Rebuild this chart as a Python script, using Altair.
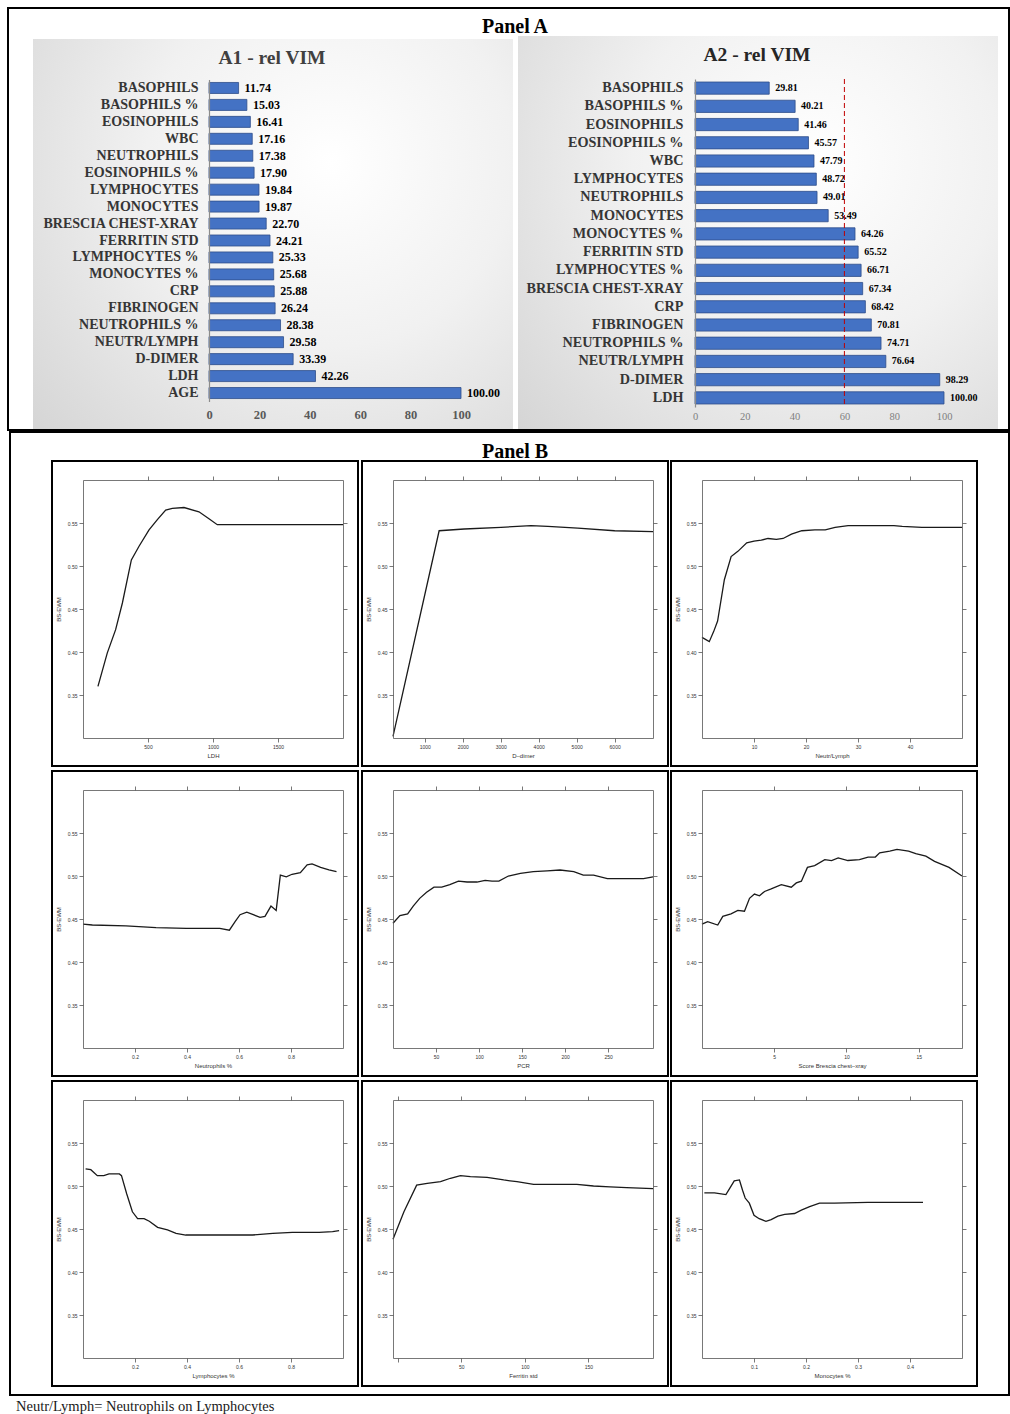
import altair as alt
import pandas as pd

W, H = 1010, 1414
SERIF = "Liberation Serif"
SANS = "Liberation Sans"

# ---------------- Panel A: relative variable importance ----------------
a1_vars = ["BASOPHILS", "BASOPHILS %", "EOSINOPHILS", "WBC", "NEUTROPHILS",
           "EOSINOPHILS %", "LYMPHOCYTES", "MONOCYTES", "BRESCIA CHEST-XRAY",
           "FERRITIN STD", "LYMPHOCYTES %", "MONOCYTES %", "CRP", "FIBRINOGEN",
           "NEUTROPHILS %", "NEUTR/LYMPH", "D-DIMER", "LDH", "AGE"]
a1_vim = [11.74, 15.03, 16.41, 17.16, 17.38, 17.90, 19.84, 19.87, 22.70, 24.21,
          25.33, 25.68, 25.88, 26.24, 28.38, 29.58, 33.39, 42.26, 100.00]

a2_vars = ["BASOPHILS", "BASOPHILS %", "EOSINOPHILS", "EOSINOPHILS %", "WBC",
           "LYMPHOCYTES", "NEUTROPHILS", "MONOCYTES", "MONOCYTES %",
           "FERRITIN STD", "LYMPHOCYTES %", "BRESCIA CHEST-XRAY", "CRP",
           "FIBRINOGEN", "NEUTROPHILS %", "NEUTR/LYMPH", "D-DIMER", "LDH"]
a2_vim = [29.81, 40.21, 41.46, 45.57, 47.79, 48.72, 49.01, 53.49, 64.26, 65.52,
          66.71, 67.34, 68.42, 70.81, 74.71, 76.64, 98.29, 100.00]
a2_cutoff = [60]

vim_ticks = [0, 20, 40, 60, 80, 100]

# ---------------- Panel B: partial dependence curves ----------------
bs_ticks = [0.35, 0.40, 0.45, 0.50, 0.55]

ldh_x = [115, 187, 251, 303, 372, 431, 508, 572, 636, 687, 777, 892, 969, 1033, 2000]
ldh_y = [0.360, 0.399, 0.426, 0.457, 0.507, 0.523, 0.542, 0.554, 0.565, 0.567,
         0.568, 0.563, 0.555, 0.548, 0.548]

ddimer_x = [164, 1379, 2039, 3007, 3800, 4240, 5030, 6000, 7010]
ddimer_y = [0.302, 0.541, 0.543, 0.545, 0.547, 0.546, 0.544, 0.541, 0.540]

nlr_x = [0, 1.4, 2.26, 3.0, 4.3, 5.6, 6.9, 8.6, 10, 11.4, 12.7, 14.3, 15.6, 17.2,
         19.2, 21.7, 23.7, 25.6, 28.1, 30, 33.2, 36.9, 38.5, 42.3, 50]
nlr_y = [0.417, 0.412, 0.424, 0.436, 0.484, 0.511, 0.517, 0.527, 0.529, 0.530,
         0.532, 0.531, 0.532, 0.537, 0.541, 0.542, 0.542, 0.545, 0.547, 0.547,
         0.547, 0.547, 0.546, 0.545, 0.545]

neut_x = [0.0, 0.036, 0.165, 0.281, 0.397, 0.526, 0.563, 0.585, 0.604, 0.630,
          0.655, 0.681, 0.700, 0.723, 0.743, 0.759, 0.782, 0.804, 0.836, 0.862,
          0.881, 0.914, 0.946, 0.975]
neut_y = [0.444, 0.443, 0.442, 0.440, 0.439, 0.439, 0.437, 0.447, 0.455, 0.458,
          0.455, 0.452, 0.453, 0.465, 0.460, 0.501, 0.499, 0.502, 0.504, 0.513,
          0.514, 0.510, 0.507, 0.505]

pcr_x = [0, 8, 17, 23.5, 31, 39, 47.6, 56.6, 66, 76, 86, 97.5, 107, 115, 123,
         134, 148, 163, 179, 194, 210, 221, 233, 249, 272, 291, 302]
pcr_y = [0.445, 0.454, 0.456, 0.465, 0.474, 0.481, 0.487, 0.487, 0.490, 0.494,
         0.493, 0.493, 0.495, 0.494, 0.494, 0.500, 0.503, 0.505, 0.506, 0.507,
         0.505, 0.501, 0.501, 0.497, 0.497, 0.497, 0.499]

xray_x = [0, 0.39, 1.09, 1.44, 2.01, 2.48, 2.94, 3.29, 3.63, 3.98, 4.33, 4.79,
          5.49, 6.18, 6.53, 6.88, 7.3, 7.8, 8.5, 8.97, 9.43, 10.1, 10.9, 11.5,
          12.0, 12.3, 13.0, 13.5, 14.3, 14.8, 15.5, 16.1, 17.1, 18]
xray_y = [0.444, 0.447, 0.443, 0.453, 0.456, 0.460, 0.459, 0.474, 0.479, 0.477,
          0.482, 0.485, 0.490, 0.487, 0.492, 0.494, 0.510, 0.512, 0.519, 0.518,
          0.521, 0.518, 0.519, 0.522, 0.522, 0.527, 0.529, 0.531, 0.529, 0.526,
          0.523, 0.517, 0.510, 0.500]

lymph_x = [0.01, 0.03, 0.055, 0.08, 0.10, 0.14, 0.148, 0.168, 0.19, 0.21, 0.235,
           0.255, 0.287, 0.325, 0.358, 0.395, 0.46, 0.523, 0.60, 0.652, 0.73,
           0.805, 0.908, 0.96, 0.985]
lymph_y = [0.520, 0.519, 0.512, 0.512, 0.514, 0.514, 0.512, 0.491, 0.470, 0.462,
           0.462, 0.459, 0.452, 0.449, 0.445, 0.443, 0.443, 0.443, 0.443, 0.443,
           0.445, 0.446, 0.446, 0.447, 0.448]

ferr_x = [-3.7, 4.9, 14.9, 23.2, 33.7, 41.5, 49.4, 57.2, 70.3, 83.4, 93.8, 106.9,
          127.8, 140.9, 154, 167, 180, 200.8]
ferr_y = [0.438, 0.470, 0.501, 0.503, 0.505, 0.509, 0.512, 0.511, 0.510, 0.507,
          0.505, 0.502, 0.502, 0.502, 0.500, 0.499, 0.498, 0.497]

mono_x = [0.0045, 0.024, 0.046, 0.053, 0.062, 0.072, 0.078, 0.083, 0.091, 0.1,
          0.11, 0.123, 0.133, 0.146, 0.159, 0.178, 0.191, 0.207, 0.226, 0.255,
          0.319, 0.425]
mono_y = [0.492, 0.492, 0.490, 0.497, 0.506, 0.507, 0.495, 0.486, 0.480, 0.466,
          0.462, 0.459, 0.461, 0.465, 0.467, 0.468, 0.472, 0.476, 0.480, 0.480,
          0.481, 0.481]

one_row = alt.Data(values=[{"k": 0}])


def frame_box(x0, y0, x1, y1, width=2, color="black"):
    return alt.Chart(one_row).mark_rect(
        fillOpacity=0, stroke=color, strokeWidth=width
    ).encode(x=alt.value(x0), x2=alt.value(x1), y=alt.value(y0), y2=alt.value(y1))


def shaded_box(x0, y0, x1, y1):
    grad = alt.RadialGradient(
        gradient="radial", x1=0.62, y1=0.35, r1=0.0, x2=0.62, y2=0.35, r2=0.85,
        stops=[alt.GradientStop(offset=0, color="#ffffff"),
               alt.GradientStop(offset=0.45, color="#f1f1f1"),
               alt.GradientStop(offset=1, color="#d4d4d4")],
    )
    return alt.Chart(one_row).mark_rect(fill=grad).encode(
        x=alt.value(x0), x2=alt.value(x1), y=alt.value(y0), y2=alt.value(y1))


def label(text, x, y, size, weight="bold", color="black", font=SERIF, align="center"):
    return alt.Chart(one_row).mark_text(
        text=text, font=font, fontSize=size, fontWeight=weight, color=color,
        align=align, baseline="middle"
    ).encode(x=alt.value(x), y=alt.value(y))


def vim_chart(names, values, x_range, y_range, pad, axis_y, cat_size, cat_pad,
              tick_style, val_size):
    df = pd.DataFrame({"var": names, "vim": values})
    xs = alt.Scale(domain=[0, 100], range=x_range, nice=False, zero=False)
    ys = alt.Scale(domain=names, range=y_range, paddingInner=pad, paddingOuter=pad / 2)
    bars = alt.Chart(df).mark_bar(color="#4472C4", stroke="#2F4E8A", strokeWidth=0.8).encode(
        x=alt.X("vim:Q", scale=xs, axis=alt.Axis(
            orient="bottom", offset=axis_y - H, values=vim_ticks, domain=False,
            ticks=False, tickSize=0, grid=False, labelPadding=4, labelFlush=False,
            title=None, zindex=2, **tick_style)),
        y=alt.Y("var:N", scale=ys, axis=alt.Axis(
            orient="left", offset=-x_range[0], domainColor="#8c8c8c", domainWidth=1.2,
            ticks=False, tickSize=0, grid=False, labelPadding=cat_pad, labelFont=SERIF,
            labelFontSize=cat_size, labelFontWeight="bold", labelColor="#353535",
            labelLimit=300, title=None, zindex=2)),
    )
    text = alt.Chart(df).mark_text(
        align="left", baseline="middle", dx=6, font=SERIF, fontSize=val_size,
        fontWeight="bold", color="black"
    ).encode(
        x=alt.X("vim:Q", scale=xs, axis=None),
        y=alt.Y("var:N", scale=ys, axis=None),
        text=alt.Text("vim:Q", format=".2f"),
    )
    return [bars, text], xs


def pd_panel(xv, yv, bx, by, xtitle, xticks, xdomain, xfmt, label_expr=None):
    fx0, fx1 = bx + 31, bx + 291
    fy0, fy1 = by + 19, by + 277
    df = pd.DataFrame({"x": xv, "y": yv})
    common = dict(domainColor="#555555", domainWidth=0.8, tickColor="#555555",
                  tickWidth=0.8, tickSize=4, grid=False, zindex=2)
    lab = dict(labelFont=SANS, labelFontSize=5, labelColor="#333333", labelPadding=2)
    xs = alt.Scale(domain=xdomain, range=[fx0, fx1], nice=False, zero=False)
    ys = alt.Scale(domain=[0.30, 0.60], range=[fy1, fy0], nice=False, zero=False)
    xlab = dict(lab)
    if label_expr:
        xlab["labelExpr"] = label_expr
    main = alt.Chart(df).mark_line(color="#1a1a1a", strokeWidth=1.3).encode(
        x=alt.X("x:Q", scale=xs, axis=alt.Axis(
            orient="bottom", offset=fy1 - H, values=xticks, format=xfmt, labelFlush=False,
            title=xtitle, titleFont=SANS, titleFontSize=6, titleFontWeight="normal",
            titleColor="#333333", titlePadding=3, **xlab, **common)),
        y=alt.Y("y:Q", scale=ys, axis=alt.Axis(
            orient="left", offset=-fx0, values=bs_ticks, format=".2f",
            title="BS-EWM", titleFont=SANS, titleFontSize=6, titleFontWeight="normal",
            titleColor="#333333", titlePadding=6, **lab, **common)),
    )
    mirror = alt.Chart(df).mark_line(opacity=0).encode(
        x=alt.X("x:Q", scale=xs, axis=alt.Axis(
            orient="top", offset=-fy0, values=xticks, labels=False, title=None, **common)),
        y=alt.Y("y:Q", scale=ys, axis=alt.Axis(
            orient="right", offset=fx1 - W, values=bs_ticks, labels=False, title=None,
            **common)),
    )
    return [frame_box(bx, by, bx + 306, by + 305, width=2), main, mirror]


layers = []

# Panel A frame, backgrounds and titles
layers.append(shaded_box(33, 39, 513, 430))
layers.append(shaded_box(518, 36, 998, 430))
layers.append(frame_box(8, 8, 1009, 430, width=2))
layers.append(label("Panel A", 515, 27, 20))
layers.append(label("A1 - rel VIM", 272, 58, 19.5, color="#404040"))
layers.append(label("A2 - rel VIM", 757, 55, 19.5, color="#262626"))

a1_layers, _ = vim_chart(
    a1_vars, a1_vim, [209, 461], [79.5, 401.5], 0.35, 404, 14, 11,
    dict(labelFont=SERIF, labelFontSize=12.5, labelFontWeight="bold", labelColor="#595959"),
    12)
layers += a1_layers

a2_layers, a2_xs = vim_chart(
    a2_vars, a2_vim, [695, 944], [79, 407], 0.33, 407, 14.2, 12,
    dict(labelFont=SERIF, labelFontSize=10.5, labelFontWeight="normal", labelColor="#7f7f7f"),
    10)
layers += a2_layers
layers.append(
    alt.Chart(pd.DataFrame({"cut": a2_cutoff})).mark_rule(
        color="#C00000", strokeDash=[5, 3], strokeWidth=1
    ).encode(x=alt.X("cut:Q", scale=a2_xs, axis=None), y=alt.value(79), y2=alt.value(406))
)

# Panel B frame and title
layers.append(frame_box(10, 432, 1009, 1395, width=2))
layers.append(label("Panel B", 515, 452, 20))

cols = [52, 362, 671]
rows = [461, 771, 1081]
panels = [
    (ldh_x, ldh_y, "LDH", [500, 1000, 1500], [0, 2000], "d", None),
    (ddimer_x, ddimer_y, "D\u2013dimer", [1000, 2000, 3000, 4000, 5000, 6000],
     [164, 7010], "d", None),
    (nlr_x, nlr_y, "Neutr/Lymph", [10, 20, 30, 40], [0, 50], "d", None),
    (neut_x, neut_y, "Neutrophils %", [0.2, 0.4, 0.6, 0.8], [0, 1], ".1f", None),
    (pcr_x, pcr_y, "PCR", [50, 100, 150, 200, 250], [0, 302], "d", None),
    (xray_x, xray_y, "Score Brescia chest\u2013xray", [5, 10, 15], [0, 18], "d", None),
    (lymph_x, lymph_y, "Lymphocytes %", [0.2, 0.4, 0.6, 0.8], [0, 1], ".1f", None),
    (ferr_x, ferr_y, "Ferritin std", [0, 50, 100, 150], [-3.7, 200.8], "d",
     "datum.value == 0 ? '' : datum.label"),
    (mono_x, mono_y, "Monocytes %", [0.1, 0.2, 0.3, 0.4], [0, 0.5], ".1f", None),
]
for i, (xv, yv, title, ticks, dom, fmt, expr) in enumerate(panels):
    layers += pd_panel(xv, yv, cols[i % 3], rows[i // 3], title, ticks, dom, fmt, expr)

layers.append(label("Neutr/Lymph= Neutrophils on Lymphocytes", 16, 1407, 14.5,
                    weight="normal", color="#1a1a1a", align="left"))

chart = alt.layer(*layers).resolve_scale(
    x="independent", y="independent"
).properties(
    width=W, height=H, autosize="none", padding=0, background="white"
).configure_view(stroke=None)

chart.save("out.html", embed_options={"renderer": "svg", "actions": False})
